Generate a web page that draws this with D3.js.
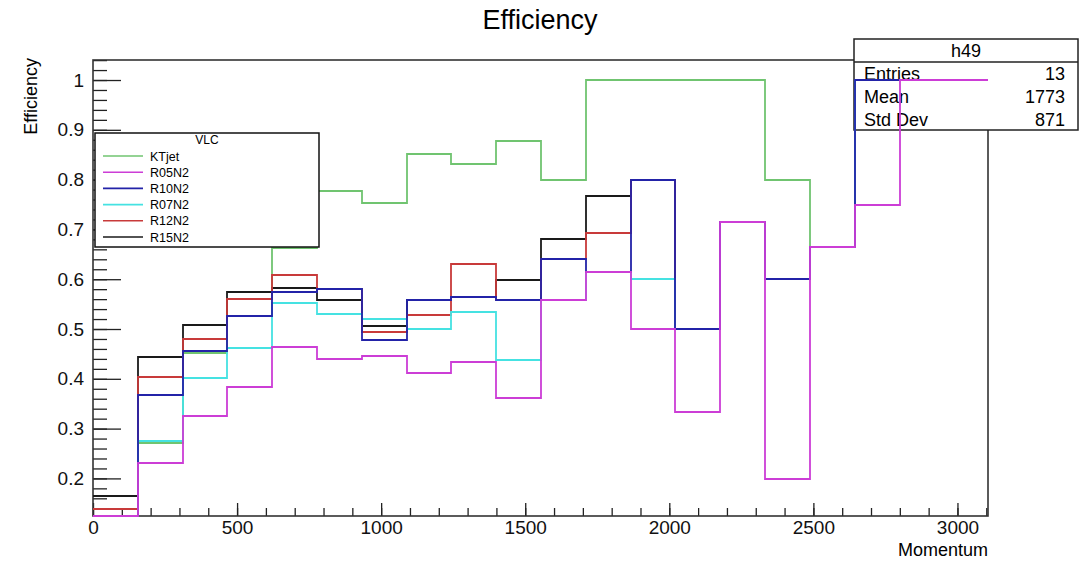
<!DOCTYPE html>
<html>
<head>
<meta charset="utf-8">
<script src="https://cdn.jsdelivr.net/npm/d3@7"></script>
<style>
  body { margin: 0; background: #fff; }
  svg { display: block; font-family: "Liberation Sans", Arial, sans-serif; }
</style>
</head>
<body>
<script>
// bin edges of the histograms (Momentum)
var binEdges = [0, 155.5, 311, 466.5, 622, 777.5, 933, 1088.5, 1244, 1399.5, 1555,
  1710.5, 1866, 2021.5, 2177, 2332.5, 2488, 2643.5, 2799, 2954.5, 3110];

// series names, in legend order
var seriesNames = ['KTjet', 'R05N2', 'R10N2', 'R07N2', 'R12N2', 'R15N2'];

// efficiency per bin
var ktjet = [0, 0.272, 0.451, 0.56, 0.663, 0.778, 0.754, 0.851, 0.832, 0.878, 0.80, 1, 1, 1, 1, 0.80, 0.665, 1, 1, 1];
var r05n2 = [0, 0.230, 0.326, 0.384, 0.463, 0.439, 0.446, 0.412, 0.434, 0.361, 0.558, 0.614, 0.50, 0.334, 0.714, 0.199, 0.665, 0.749, 1, 1];
var r10n2 = [0, 0.368, 0.456, 0.526, 0.575, 0.580, 0.477, 0.558, 0.565, 0.558, 0.640, 0.614, 0.80, 0.50, 0.714, 0.60, 0.665, 1, 1, 1];
var r07n2 = [0, 0.276, 0.402, 0.461, 0.552, 0.530, 0.521, 0.500, 0.534, 0.438, 0.558, 0.614, 0.60, 0.50, 0.714, 0.60, 0.665, 1, 1, 1];
var r12n2 = [0.139, 0.404, 0.480, 0.560, 0.608, 0.580, 0.493, 0.529, 0.631, 0.558, 0.640, 0.693, 0.80, 0.50, 0.714, 0.60, 0.665, 1, 1, 1];
var r15n2 = [0.165, 0.443, 0.509, 0.575, 0.582, 0.558, 0.506, 0.558, 0.565, 0.599, 0.680, 0.768, 0.80, 0.50, 0.714, 0.60, 0.665, 1, 1, 1];

// tick labels
var xTicks = [0, 500, 1000, 1500, 2000, 2500, 3000];
var yTicks = [0.2, 0.3, 0.4, 0.5, 0.6, 0.7, 0.8, 0.9, 1];

// stats box
var statsTitle = 'h49';
var statsLabels = ['Entries', 'Mean', 'Std Dev'];
var statsValues = ['13', '1773', '871'];

var colors = {
  KTjet: '#70c470', R05N2: '#cc3dd6', R10N2: '#2323a8',
  R07N2: '#45e2e2', R12N2: '#c83a3a', R15N2: '#1a1a1a'
};
var seriesData = { KTjet: ktjet, R05N2: r05n2, R10N2: r10n2, R07N2: r07n2, R12N2: r12n2, R15N2: r15n2 };

var width = 1091, height = 562;
var frameL = 93, frameR = 988, frameT = 60, frameB = 516;

var svg = d3.select('body').append('svg')
  .attr('width', width)
  .attr('height', height);

var x = d3.scaleLinear().domain([0, 3106]).range([frameL, frameR]);
var y = d3.scaleLinear().domain([0.1245, 1.0402]).range([frameB, frameT]).clamp(true);

svg.append('defs').append('clipPath').attr('id', 'frameClip')
  .append('rect')
  .attr('x', frameL).attr('y', frameT - 1)
  .attr('width', frameR - frameL).attr('height', frameB - frameT + 2);

//title
svg.append('text')
  .attr('x', 540).attr('y', 29)
  .attr('text-anchor', 'middle')
  .style('font-size', '27px')
  .text('Efficiency');

//axes, ticks pointing inside the frame
var minorY = d3.range(0.14, 1.041, 0.02);
var minorX = d3.range(0, 3101, 100);

svg.append('g')
  .attr('transform', 'translate(' + frameL + ',0)')
  .call(d3.axisLeft(y).tickValues(minorY).tickFormat('').tickSizeInner(-14).tickSizeOuter(0))
  .call(g => g.select('.domain').remove());

svg.append('g')
  .attr('transform', 'translate(' + frameL + ',0)')
  .call(d3.axisLeft(y).tickValues(yTicks).tickFormat(d3.format('')).tickSizeInner(-28).tickSizeOuter(0).tickPadding(9))
  .call(g => g.select('.domain').remove())
  .call(g => g.selectAll('text').style('font-size', '19px').attr('fill', '#111'));

svg.append('g')
  .attr('transform', 'translate(0,' + frameB + ')')
  .call(d3.axisBottom(x).tickValues(minorX).tickFormat('').tickSizeInner(-8).tickSizeOuter(0))
  .call(g => g.select('.domain').remove());

svg.append('g')
  .attr('transform', 'translate(0,' + frameB + ')')
  .call(d3.axisBottom(x).tickValues(xTicks).tickFormat(d3.format('d')).tickSizeInner(-13).tickSizeOuter(0).tickPadding(5))
  .call(g => g.select('.domain').remove())
  .call(g => g.selectAll('text').style('font-size', '19px').attr('fill', '#111'));

svg.selectAll('.tick line').attr('stroke', '#222').attr('stroke-width', 1.3);

//axis titles
svg.append('text')
  .attr('transform', 'translate(37,58) rotate(-90)')
  .attr('text-anchor', 'end')
  .style('font-size', '18px')
  .text('Efficiency');

svg.append('text')
  .attr('x', frameR).attr('y', 556)
  .attr('text-anchor', 'end')
  .style('font-size', '18px')
  .text('Momentum');

//frame
svg.append('rect')
  .attr('x', frameL).attr('y', frameT)
  .attr('width', frameR - frameL).attr('height', frameB - frameT)
  .attr('fill', 'none')
  .attr('stroke', '#333')
  .attr('stroke-width', 1.6);

// snap to whole pixels so overlapping outlines cover each other cleanly
var histLine = d3.line()
  .x(d => Math.round(x(d[0])))
  .y(d => Math.round(y(d[1])))
  .curve(d3.curveStepAfter);

var plot = svg.append('g').attr('clip-path', 'url(#frameClip)');

function drawHist(name) {
  var vals = seriesData[name];
  var pts = vals.map((v, i) => [binEdges[i], v]);
  pts.push([binEdges[vals.length], vals[vals.length - 1]]);
  plot.append('path')
    .datum(pts)
    .attr('d', histLine)
    .attr('fill', 'none')
    .attr('stroke', colors[name])
    .attr('stroke-width', 1.8);
}

//first histogram, then its stats box, then the others drawn with "same"
drawHist('KTjet');

var stats = svg.append('g');
stats.append('rect')
  .attr('x', 854).attr('y', 39).attr('width', 224).attr('height', 91)
  .attr('fill', '#fff').attr('stroke', '#222').attr('stroke-width', 1.5);
stats.append('line')
  .attr('x1', 854).attr('x2', 1078).attr('y1', 62).attr('y2', 62)
  .attr('stroke', '#222').attr('stroke-width', 1.5);
stats.append('text')
  .attr('x', 966).attr('y', 57)
  .attr('text-anchor', 'middle')
  .style('font-size', '18px')
  .text(statsTitle);
stats.selectAll('text.lab')
  .data(statsLabels)
  .enter().append('text')
  .attr('class', 'lab')
  .attr('x', 864)
  .attr('y', (d, i) => 80 + i * 23)
  .style('font-size', '18px')
  .text(d => d);
stats.selectAll('text.val')
  .data(statsValues)
  .enter().append('text')
  .attr('class', 'val')
  .attr('x', 1065)
  .attr('y', (d, i) => 80 + i * 23)
  .attr('text-anchor', 'end')
  .style('font-size', '18px')
  .text(d => d);

plot.raise();
['R15N2', 'R12N2', 'R07N2', 'R10N2', 'R05N2'].forEach(drawHist);

//legend
var legend = svg.append('g');
legend.append('rect')
  .attr('x', 95).attr('y', 133).attr('width', 224).attr('height', 114)
  .attr('fill', '#fff').attr('stroke', '#111').attr('stroke-width', 1.5);
legend.append('text')
  .attr('x', 207).attr('y', 144)
  .attr('text-anchor', 'middle')
  .style('font-size', '12px')
  .text('VLC');

var rows = legend.selectAll('g.row')
  .data(seriesNames)
  .enter().append('g')
  .attr('class', 'row')
  .attr('transform', (d, i) => 'translate(0,' + (156 + i * 16.2) + ')');
rows.append('line')
  .attr('x1', 103).attr('x2', 143)
  .attr('stroke', d => colors[d])
  .attr('stroke-width', 1.6);
rows.append('text')
  .attr('x', 150).attr('y', 4.5)
  .style('font-size', '12.5px')
  .text(d => d);
</script>
</body>
</html>
